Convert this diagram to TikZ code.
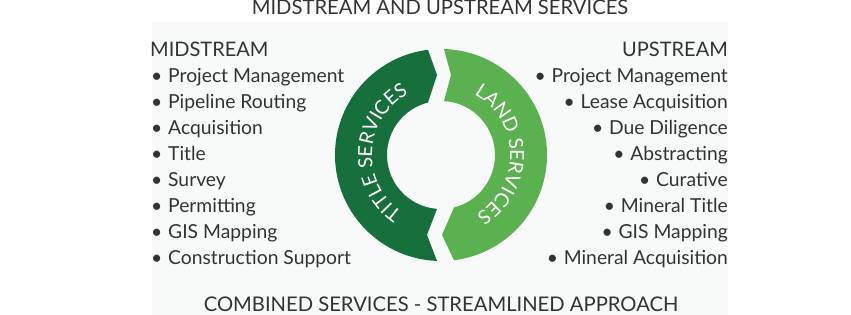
\documentclass[tikz,border=0pt]{standalone}
\usepackage{fontspec}
\setmainfont{Lato}
\usetikzlibrary{decorations.text}
\definecolor{txt}{HTML}{333333}
\definecolor{dkgreen}{HTML}{176F3C}
\definecolor{ltgreen}{HTML}{5BB14F}
\definecolor{panelbg}{HTML}{F8FAFA}
\newcommand{\ringfont}{\fontsize{19.5}{21}\selectfont}
\begin{document}
\begin{tikzpicture}[x=1pt,y=1pt,
  banner/.style={font=\fontsize{20.2}{22}\selectfont, text=txt, inner sep=0pt, anchor=base},
  heading/.style={font=\fontsize{20}{22}\selectfont, text=txt, inner sep=0pt},
  item/.style={font=\fontsize{19.3}{21}\selectfont, text=txt, inner sep=0pt}]
\useasboundingbox (0,0) rectangle (851,315);
\fill[panelbg] (152,0) rectangle (728,293);
% titles
\node[banner] (title) at (440,300) {MIDSTREAM AND UPSTREAM SERVICES};
\node[banner] (foot) at (441,3) {COMBINED SERVICES - STREAMLINED APPROACH};
% headings
\node[heading, anchor=base west] (mid) at (150,258.3) {MIDSTREAM};
\node[heading, anchor=base east] (up) at (728,258.3) {UPSTREAM};
% lists
\foreach \t [count=\i] in {Project Management, Pipeline Routing, Acquisition, Title, Survey, Permitting, GIS Mapping, Construction Support}
  \node[item, anchor=base west] (L\i) at (151,{232.3-26.04*(\i-1)}) {•\hspace{0.3em}\t};
\foreach \t [count=\i] in {Project Management, Lease Acquisition, Due Diligence, Abstracting, Curative, Mineral Title, GIS Mapping, Mineral Acquisition}
  \node[item, anchor=base east] (R\i) at (728,{232.3-26.04*(\i-1)}) {•\hspace{0.3em}\t};
% ring
\begin{scope}[shift={(441,160)}]
  \fill[dkgreen] (97.04:106) arc[start angle=97.04, end angle=267.84, radius=106]
     -- (-14,-80) -- (265.75:54) arc[start angle=265.75, end angle=103.93, radius=54]
     -- (-4,80) -- cycle;
  \fill[ltgreen] (88.38:106) arc[start angle=88.38, end angle=-82.96, radius=106]
     -- (1,-80) -- (-76.07:54) arc[start angle=-76.07, end angle=86.82, radius=54]
     -- (10,80) -- cycle;
  \path[decorate, decoration={text along path, text align=center, text color=white,
     text={|\ringfont|TITLE SERVICES}}]
     (250:69) arc[start angle=250, end angle=104, radius=69];
  \path[decorate, decoration={text along path, text align=center, text color=white,
     text={|\ringfont|LAND SERVICES}}]
     (80:69) arc[start angle=80, end angle=-78, radius=69];
\end{scope}
\end{tikzpicture}
\end{document}
